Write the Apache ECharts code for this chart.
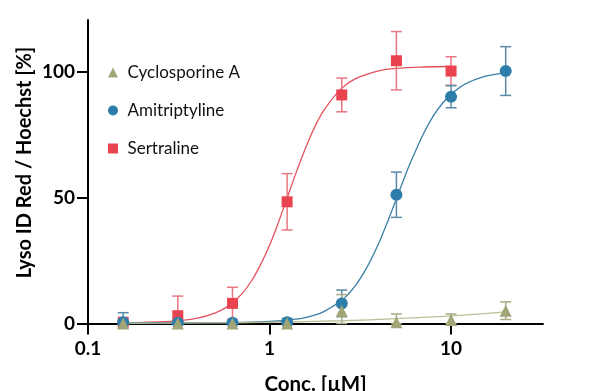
<!DOCTYPE html>
<html>
<head>
<meta charset="utf-8">
<script src="https://cdn.jsdelivr.net/npm/echarts@6/dist/echarts.min.js"></script>
<style>
  html, body { margin: 0; padding: 0; background: #fff; }
  #chart { width: 600px; height: 391px; }
</style>
</head>
<body>
<div id="chart"></div>
<script>
// ---- data ----
const seriesNames = ['Cyclosporine A', 'Amitriptyline', 'Sertraline'];
const conc = [0.15625, 0.3125, 0.625, 1.25, 2.5, 5, 10, 20];

const cycloMean = [0, 0, 0, 0, 5.0, 0.5, 1.4, 5.1];
const cycloErr  = [0.5, 0.5, 0.5, 0.5, 6.5, 3.3, 2.4, 3.5];

const amiMean = [0.5, 0.3, 0.3, 0.5, 8.0, 51.2, 90.2, 100.4];
const amiErr  = [3.8, 0.5, 0.5, 1.5, 5.3, 9.0, 4.4, 9.7];

const sertConc = [0.15625, 0.3125, 0.625, 1.25, 2.5, 5, 10];
const sertMean = [0.5, 3.1, 8.0, 48.4, 90.9, 104.5, 100.4];
const sertErr  = [0.5, 7.8, 6.4, 11.2, 6.7, 11.6, 5.7];

// fitted curves, points
const cycloFitX = [0.15625, 0.3125, 0.625, 1.25, 2.5, 5, 10, 20];
const cycloFitY = [0.1, 0.15, 0.3, 0.6, 1.1, 1.9, 3.0, 4.6];

const amiFitX = [0.15, 0.3, 0.5, 0.7, 1, 1.25, 1.5, 1.75, 2, 2.5, 3, 3.5, 4, 4.5, 5, 5.5, 6, 7, 8, 9, 10, 12, 15, 20];
const amiFitY = [0.3, 0.3, 0.35, 0.45, 0.8, 1.3, 2.0, 3.2, 4.8, 9.2, 15.5, 23.3, 32, 41, 49.6, 57.5, 64.3, 75.1, 82.7, 87.7, 91.2, 95.3, 98.1, 99.8];

const sertFitX = [0.15625, 0.2, 0.3, 0.4, 0.5, 0.6, 0.7, 0.8, 0.9, 1.0, 1.1, 1.25, 1.4, 1.6, 1.8, 2.0, 2.5, 3, 4, 5, 7, 10];
const sertFitY = [0.35, 0.45, 0.95, 2.1, 4.1, 7.2, 11.6, 17.2, 23.9, 31.1, 38.7, 49.9, 59.9, 70.8, 79.1, 85, 93.6, 97.5, 100.5, 101.5, 102, 102.2];

const xTicks = [0.1, 1, 10];
const yTicks = [0, 50, 100];

// ---- styles ----
const FONT = 'Lato';
const colors = {
  cyclo: { marker: '#A1A577', line: '#BCBE96', err: '#A9AC84' },
  ami:   { marker: '#2D7DAA', line: '#3A7EA6', err: '#5A8AA5' },
  sert:  { marker: '#E8434F', line: '#E4535D', err: '#E8777F' }
};

function zip(xs, ys) { return xs.map((x, i) => [x, ys[i]]); }
function zip3(xs, ys, es) { return xs.map((x, i) => [x, ys[i], es[i]]); }

function errSeries(name, data, color) {
  return {
    name: name,
    type: 'custom',
    data: data,
    encode: { x: 0, y: 1 },
    silent: true,
    z: 3,
    renderItem: function (params, api) {
      const x = api.value(0), y = api.value(1), e = api.value(2);
      const top = api.coord([x, y + e]);
      const bot = api.coord([x, Math.max(0, y - e)]);
      const hw = 5.5;
      const st = { stroke: color, lineWidth: 1.5 };
      return {
        type: 'group',
        children: [
          { type: 'line', shape: { x1: top[0], y1: top[1], x2: bot[0], y2: bot[1] }, style: st },
          { type: 'line', shape: { x1: top[0] - hw, y1: top[1], x2: top[0] + hw, y2: top[1] }, style: st },
          { type: 'line', shape: { x1: bot[0] - hw, y1: bot[1], x2: bot[0] + hw, y2: bot[1] }, style: st }
        ]
      };
    }
  };
}

function fitSeries(name, data, color) {
  return {
    name: name, type: 'line', data: data, smooth: 0.3,
    symbol: 'none', silent: true, z: 2,
    lineStyle: { color: color, width: 1.3 }
  };
}

function pointSeries(name, data, symbol, size, color, z) {
  return {
    name: name, type: 'scatter', data: data, symbol: symbol, symbolSize: size,
    itemStyle: { color: color, opacity: 1 }, z: z
  };
}

const chart = echarts.init(document.getElementById('chart'), null, { renderer: 'canvas' });

const option = {
  animation: false,
  backgroundColor: '#ffffff',
  grid: { left: 88, right: 57, top: 20, bottom: 67.5, containLabel: false, outerBoundsMode: 'none' },
  legend: {
    orient: 'vertical',
    left: 108,
    top: 64,
    padding: 0,
    itemWidth: 10,
    itemHeight: 10,
    itemGap: 21,
    textStyle: { fontFamily: FONT, fontSize: 17, color: '#111', padding: [0, 0, 0, 4.5] },
    data: [
      { name: seriesNames[0], icon: 'triangle', itemStyle: { color: colors.cyclo.marker } },
      { name: seriesNames[1], icon: 'circle', itemStyle: { color: colors.ami.marker } },
      { name: seriesNames[2], icon: 'rect', itemStyle: { color: colors.sert.marker } }
    ]
  },
  xAxis: {
    type: 'log',
    logBase: 10,
    min: 0.1,
    max: 32.1,
    name: 'Conc. [µM]',
    nameLocation: 'middle',
    nameGap: 50,
    nameTextStyle: { fontFamily: FONT, fontWeight: 'bold', fontSize: 20.5, color: '#000' },
    axisLine: { onZero: false, lineStyle: { color: '#000', width: 2 } },
    axisTick: { show: true, length: 11, lineStyle: { color: '#000', width: 2 }, customValues: xTicks },
    minorTick: { show: false },
    splitLine: { show: false },
    axisLabel: {
      customValues: xTicks,
      margin: 16,
      fontFamily: FONT, fontWeight: 'bold', fontSize: 19, color: '#000',
      formatter: function (v) { return String(v); }
    }
  },
  yAxis: {
    type: 'value',
    min: 0,
    max: 120.7,
    axisLine: { show: true, lineStyle: { color: '#000', width: 2 } },
    axisTick: { show: true, length: 11, lineStyle: { color: '#000', width: 2 }, customValues: yTicks },
    splitLine: { show: false },
    axisLabel: {
      customValues: yTicks,
      margin: 13,
      fontFamily: FONT, fontWeight: 'bold', fontSize: 19, color: '#000'
    }
  },
  graphic: [{
    type: 'text',
    x: 24.5, y: 162.5,
    rotation: Math.PI / 2,
    style: {
      text: 'Lyso ID Red / Hoechst [%]',
      fontFamily: FONT, fontWeight: 'bold', fontSize: 20, fill: '#000',
      align: 'center', verticalAlign: 'middle'
    }
  }],
  series: [
    fitSeries('Sertraline fit', zip(sertFitX, sertFitY), colors.sert.line),
    fitSeries('Amitriptyline fit', zip(amiFitX, amiFitY), colors.ami.line),
    fitSeries('Cyclosporine A fit', zip(cycloFitX, cycloFitY), colors.cyclo.line),
    errSeries('Sertraline err', zip3(sertConc, sertMean, sertErr), colors.sert.err),
    errSeries('Amitriptyline err', zip3(conc, amiMean, amiErr), colors.ami.err),
    errSeries('Cyclosporine A err', zip3(conc, cycloMean, cycloErr), colors.cyclo.err),
    pointSeries(seriesNames[2], zip(sertConc, sertMean), 'rect', 11, colors.sert.marker, 4),
    pointSeries(seriesNames[1], zip(conc, amiMean), 'circle', 12, colors.ami.marker, 5),
    pointSeries(seriesNames[0], zip(conc, cycloMean), 'triangle', 12, colors.cyclo.marker, 6)
  ]
};

chart.setOption(option);
</script>
</body>
</html>
